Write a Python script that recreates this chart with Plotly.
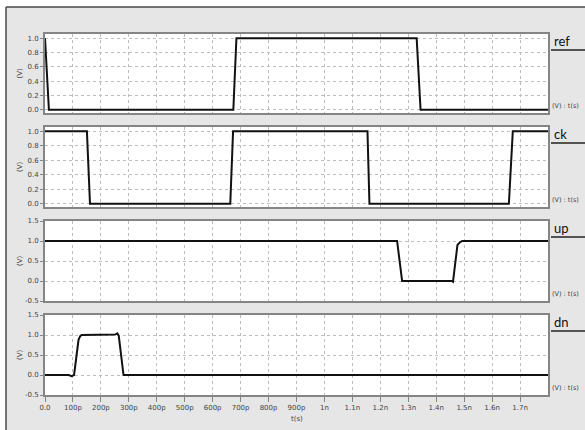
import plotly.graph_objects as go
from plotly.subplots import make_subplots

# ---- waveform data (time in ps, voltage in V) ----
ref_t = [0, 14, 674, 685, 1330, 1344, 1800]
ref_v = [1.0, 0.0, 0.0, 1.0, 1.0, 0.0, 0.0]

ck_t = [0, 150, 161, 663, 673, 1154, 1161, 1660, 1674, 1800]
ck_v = [1.0, 1.0, 0.0, 0.0, 1.0, 1.0, 0.0, 0.0, 1.0, 1.0]

up_t = [0, 1260, 1278, 1456, 1460, 1476, 1485, 1493, 1800]
up_v = [1.0, 1.0, 0.0, 0.0, -0.02, 0.9, 0.97, 1.0, 1.0]

dn_t = [0, 85, 95, 104, 120, 126, 131, 251, 259, 264, 281, 1800]
dn_v = [0.0, 0.0, -0.03, 0.0, 0.88, 0.97, 1.0, 1.01, 1.04, 0.98, 0.0, 0.0]

signal_names = ["ref", "ck", "up", "dn"]
series_t = [ref_t, ck_t, up_t, dn_t]
series_v = [ref_v, ck_v, up_v, dn_v]

x_tickvals = list(range(0, 1800, 100))
x_ticktext = ["0.0", "100p", "200p", "300p", "400p", "500p", "600p", "700p",
              "800p", "900p", "1n", "1.1n", "1.2n", "1.3n", "1.4n", "1.5n",
              "1.6n", "1.7n"]

y_ticks_digital = [0.0, 0.2, 0.4, 0.6, 0.8, 1.0]
y_ticks_wide = [-0.5, 0.0, 0.5, 1.0, 1.5]

# ---- page geometry ----
W, H = 585, 430
ML, MR, MT, MB = 45, 37, 34, 35
PW, PH = W - ML - MR, H - MT - MB


def px(x):
    return (x - ML) / PW


def py(y):
    return (H - MB - y) / PH


# panel top / bottom (pixels)
panels = [(34, 113), (127, 207), (221, 301), (315, 395)]

fig = make_subplots(rows=4, cols=1, shared_xaxes=True)

for i, (t, v) in enumerate(zip(series_t, series_v)):
    fig.add_trace(go.Scatter(x=t, y=v, mode="lines",
                             line=dict(color="#111111", width=2),
                             showlegend=False, hoverinfo="skip"),
                  row=i + 1, col=1)

tick_font = dict(family="DejaVu Sans", size=7, color="#444444")
frame = "#858585"
grid = "#bdbdbd"

layout_axes = {}
for i, (top, bot) in enumerate(panels):
    n = "" if i == 0 else str(i + 1)
    last = i == 3
    layout_axes["xaxis" + n] = dict(
        domain=[0, 1], range=[0, 1800],
        tickvals=x_tickvals, ticktext=x_ticktext,
        showticklabels=last, ticks="outside" if last else "",
        ticklen=5, tickcolor=frame, tickfont=tick_font,
        showgrid=True, gridcolor=grid, griddash="dot", gridwidth=1,
        showline=True, linecolor=frame, linewidth=2, mirror=True,
        zeroline=False,
    )
    if i < 2:
        yr = [-0.045, 1.06]
        yt = y_ticks_digital
    else:
        yr = [-0.5, 1.5]
        yt = y_ticks_wide
    layout_axes["yaxis" + n] = dict(
        domain=[py(bot), py(top)], range=yr,
        tickvals=yt, ticktext=[f"{v:.1f}" for v in yt],
        ticks="outside", ticklen=3, tickcolor=frame, tickfont=tick_font,
        showgrid=True, gridcolor=grid, griddash="dot", gridwidth=1,
        showline=True, linecolor=frame, linewidth=2, mirror=True,
        zeroline=False,
    )

fig.update_layout(**layout_axes)

annotations = []
shapes = []

# white page strip around the grey panel frame
shapes.append(dict(type="rect", xref="paper", yref="paper", layer="below",
                   x0=px(-5), x1=px(600), y0=py(7), y1=py(-5),
                   fillcolor="white", line=dict(width=0)))
shapes.append(dict(type="rect", xref="paper", yref="paper", layer="below",
                   x0=px(-5), x1=px(6), y0=py(440), y1=py(-5),
                   fillcolor="white", line=dict(width=0)))
shapes.append(dict(type="line", xref="paper", yref="paper", layer="below",
                   x0=px(6), x1=px(600), y0=py(7), y1=py(7),
                   line=dict(color="#4a4a4a", width=1.5)))
shapes.append(dict(type="line", xref="paper", yref="paper", layer="below",
                   x0=px(6), x1=px(6), y0=py(7), y1=py(440),
                   line=dict(color="#4a4a4a", width=1.5)))

for i, (top, bot) in enumerate(panels):
    # signal name with underline at the right
    annotations.append(dict(text=signal_names[i], xref="paper", yref="paper",
                            x=px(552), y=py(top + 7), xanchor="left",
                            yanchor="middle", showarrow=False,
                            font=dict(family="Lato", size=13, color="#111111")))
    shapes.append(dict(type="line", xref="paper", yref="paper",
                       x0=px(551), x1=px(590), y0=py(top + 16), y1=py(top + 16),
                       line=dict(color="#222222", width=1.5)))
    # unit note
    annotations.append(dict(text="(V) : t(s)", xref="paper", yref="paper",
                            x=px(550), y=py(bot - 7), xanchor="left",
                            yanchor="middle", showarrow=False,
                            font=dict(family="DejaVu Sans", size=6.5,
                                      color="#444444")))
    # y-axis unit label
    annotations.append(dict(text="(V)", xref="paper", yref="paper",
                            x=px(20), y=py((top + bot) / 2), xanchor="center",
                            yanchor="middle", showarrow=False, textangle=-90,
                            font=dict(family="DejaVu Sans", size=7,
                                      color="#444444")))

annotations.append(dict(text="t(s)", xref="paper", yref="paper",
                        x=0.5, y=py(419), xanchor="center", yanchor="middle",
                        showarrow=False,
                        font=dict(family="DejaVu Sans", size=7, color="#444444")))

fig.update_layout(
    width=W, height=H,
    margin=dict(l=ML, r=MR, t=MT, b=MB),
    paper_bgcolor="#e6e6e6", plot_bgcolor="#ffffff",
    annotations=annotations, shapes=shapes,
    showlegend=False,
)

fig.write_html("out.html")
